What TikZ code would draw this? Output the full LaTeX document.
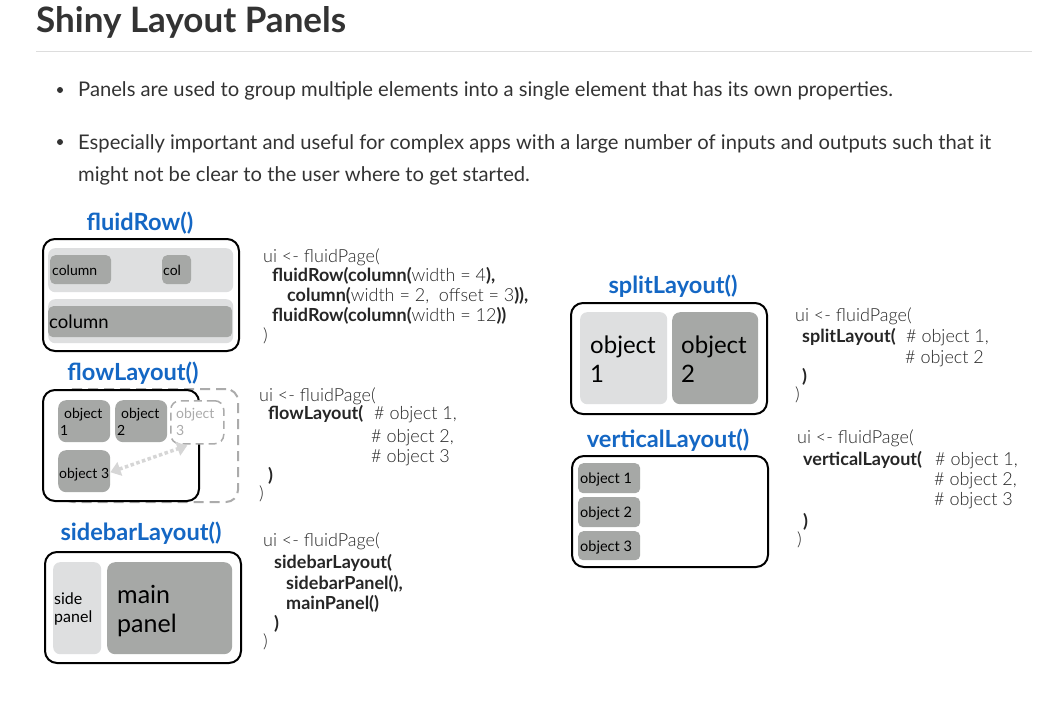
\documentclass[tikz,border=0pt]{standalone}
\usepackage{fontspec}
\setmainfont{Lato}
\IfFontExistsTF{Lato Light}{\newfontfamily\codefont{Lato Light}[BoldFont={Lato Bold}]}{\newfontfamily\codefont{Lato}}
\usetikzlibrary{arrows.meta}
\definecolor{ttl}{HTML}{333333}
\definecolor{blu}{HTML}{1467C4}
\definecolor{lgr}{HTML}{DEDFE0}
\definecolor{dgr}{HTML}{A6A8A6}
\definecolor{cgr}{HTML}{262626}
\definecolor{ghost}{HTML}{ABABAB}
\definecolor{arrc}{HTML}{D6D6D6}
\definecolor{rule}{HTML}{DDDDDD}
\newcommand\fsz[1]{\fontsize{#1}{#1}\selectfont}
\begin{document}
\begin{tikzpicture}[x=1pt,y=-1pt,
 outerbox/.style={draw=black, line width=2pt, rounded corners=12pt, fill=white, inner sep=0, anchor=north west},
 lbox/.style={fill=lgr, rounded corners=7pt, inner sep=0, anchor=north west},
 dbox/.style={fill=dgr, rounded corners=5pt, inner sep=0, anchor=north west},
 txt/.style={anchor=base west, inner sep=0, text=black},
 head/.style={anchor=base, inner sep=0, text=blu, font=\bfseries\fsz{23.6}},
 code/.style={anchor=base west, inner sep=0, text=cgr, font=\codefont\fsz{18}},
]
\path[use as bounding box, fill=white] (0,0) rectangle (1053,713);

% title and bullets
\node[anchor=base west, inner sep=0, text=ttl, font=\bfseries\fsz{35}] (title) at (36,32) {Shiny Layout Panels};
\draw[rule, line width=1pt] (36,51) -- (1032,51);
\fill[ttl] (60,90) circle (3pt);
\fill[ttl] (60,142) circle (3pt);
\node[anchor=base west, inner sep=0, text=ttl, font=\fsz{20.2}] (b1) at (78,96) {Panels are used to group multiple elements into a single element that has its own properties.};
\node[anchor=base west, inner sep=0, text=ttl, font=\fsz{20.2}] (b2) at (78,149) {Especially important and useful for complex apps with a large number of inputs and outputs such that it};
\node[anchor=base west, inner sep=0, text=ttl, font=\fsz{20.2}] (b3) at (78,181) {might not be clear to the user where to get started.};

% ---------- fluidRow
\node[head] (h1) at (140,230) {fluidRow()};
\node[outerbox, minimum width=196pt, minimum height=112pt] (fr) at (42,238) {};
\node[lbox, minimum width=185pt, minimum height=44pt] (fr1) at (48,248) {};
\node[lbox, minimum width=185pt, minimum height=44pt] (fr2) at (48,299) {};
\node[dbox, minimum width=61pt, minimum height=29pt] (fc1) at (50,255) {};
\node[dbox, minimum width=29pt, minimum height=29pt] (fc2) at (162,255) {};
\node[dbox, minimum width=184pt, minimum height=31pt] (fc3) at (48,306) {};
\node[txt, font=\fsz{14}] (fc1t) at (52,275) {column};
\node[txt, font=\fsz{14}] (fc2t) at (163,275) {col};
\node[txt, font=\fsz{18.5}] (fc3t) at (49,328) {column};

\node[code] (c1a) at (263,262) {ui <- fluidPage(};
\node[code] (c1b) at (272,281) {\bfseries fluidRow(column(\mdseries width = 4\bfseries ),};
\node[code] (c1c) at (287,301) {\bfseries column(\mdseries width = 2,\ \ offset = 3\bfseries )),};
\node[code] (c1d) at (272,321) {\bfseries fluidRow(column(\mdseries width = 12\bfseries ))};
\node[code] (c1e) at (263,341) {)};

% ---------- flowLayout
\node[head] (h2) at (133,380) {flowLayout()};
\node[draw=ghost, line width=2pt, dash pattern=on 10pt off 6pt, rounded corners=12pt, inner sep=0, anchor=north west, minimum width=177pt, minimum height=113pt] (fldash) at (60,388) {};
\node[outerbox, minimum width=156pt, minimum height=111pt] (fl) at (42,389) {};
\node[dbox, rounded corners=8pt, minimum width=52pt, minimum height=42pt] (o1) at (58,400) {};
\node[dbox, rounded corners=8pt, minimum width=52pt, minimum height=42pt] (o2) at (115,400) {};
\node[dbox, rounded corners=8pt, minimum width=52pt, minimum height=42pt] (o3) at (58,450) {};
\node[draw=ghost, fill=white, line width=1.5pt, dash pattern=on 8pt off 5pt, rounded corners=9pt, inner sep=0, anchor=north west, minimum width=53pt, minimum height=43pt] (og) at (170,400) {};
\node[txt, font=\fsz{14}] (o1t) at (64,418) {object};
\node[txt, font=\fsz{14}] (o1n) at (60,435) {1};
\node[txt, font=\fsz{14}] (o2t) at (121,418) {object};
\node[txt, font=\fsz{14}] (o2n) at (117,435) {2};
\node[txt, font=\fsz{14}] (o3t) at (59,478) {object 3};
\node[txt, font=\fsz{14}, text=ghost] (ogt) at (176,418) {object};
\node[txt, font=\fsz{14}, text=ghost] (ogn) at (176,435) {3};
\draw[arrc, line width=3.5pt, dash pattern=on 3.5pt off 2.5pt, {Triangle[length=10pt,width=14pt]}-{Triangle[length=10pt,width=14pt]}] ([yshift=-1pt]o3.east) -- ([xshift=-10pt,yshift=-1pt]og.south);

\node[code] (c2a) at (259,401) {ui <- fluidPage(};
\node[code] (c2b) at (268,419) {\bfseries flowLayout(};
\node[code] (c2b2) at (374,419) {\# object 1,};
\node[code] (c2c) at (371,442) {\# object 2,};
\node[code] (c2d) at (371,462) {\# object 3};
\node[code] (c2e) at (268,481) {\bfseries )};
\node[code] (c2f) at (259,499) {)};

% ---------- sidebarLayout
\node[head] (h3) at (141,540) {sidebarLayout()};
\node[outerbox, minimum width=196pt, minimum height=111pt] (sb) at (44,551) {};
\node[lbox, minimum width=48pt, minimum height=92pt] (sp) at (53,562) {};
\node[dbox, rounded corners=8pt, minimum width=125pt, minimum height=92pt] (mp) at (107,562) {};
\node[txt, font=\fsz{16}] (spt) at (54,604) {side};
\node[txt, font=\fsz{16}] (spt2) at (54,622) {panel};
\node[txt, font=\fsz{25}] (mpt) at (117,603) {main};
\node[txt, font=\fsz{25}] (mpt2) at (117,632) {panel};

\node[code] (c3a) at (263,546) {ui <- fluidPage(};
\node[code] (c3b) at (274,568) {\bfseries sidebarLayout(};
\node[code] (c3c) at (286,589) {\bfseries sidebarPanel(),};
\node[code] (c3d) at (286,609) {\bfseries mainPanel()};
\node[code] (c3e) at (274,629) {\bfseries )};
\node[code] (c3f) at (263,647) {)};

% ---------- splitLayout
\node[head] (h4) at (673,293) {splitLayout()};
\node[outerbox, minimum width=196pt, minimum height=111pt] (sl) at (570,302) {};
\node[lbox, minimum width=87pt, minimum height=92pt] (s1) at (580,312) {};
\node[dbox, rounded corners=8pt, minimum width=86pt, minimum height=92pt] (s2) at (672,312) {};
\node[txt, font=\fsz{24}] (s1t) at (590,353) {object};
\node[txt, font=\fsz{24}] (s1n) at (590,382) {1};
\node[txt, font=\fsz{24}] (s2t) at (681,353) {object};
\node[txt, font=\fsz{24}] (s2n) at (681,382) {2};

\node[code] (c4a) at (795,321) {ui <- fluidPage(};
\node[code] (c4b) at (802,342) {\bfseries splitLayout(};
\node[code] (c4b2) at (906,342) {\# object 1,};
\node[code] (c4c) at (905,363) {\# object 2};
\node[code] (c4d) at (802,382) {\bfseries )};
\node[code] (c4e) at (795,400) {)};

% ---------- verticalLayout
\node[head] (h5) at (668,447) {verticalLayout()};
\node[outerbox, minimum width=196pt, minimum height=111pt] (vl) at (571,455) {};
\node[dbox, minimum width=62pt, minimum height=30pt] (v1) at (578,463) {};
\node[dbox, minimum width=62pt, minimum height=30pt] (v2) at (578,497) {};
\node[dbox, minimum width=62pt, minimum height=29pt] (v3) at (578,531) {};
\node[txt, font=\fsz{14.5}] (v1t) at (580,483) {object 1};
\node[txt, font=\fsz{14.5}] (v2t) at (580,517) {object 2};
\node[txt, font=\fsz{14.5}] (v3t) at (580,551) {object 3};

\node[code] (c5a) at (797,443) {ui <- fluidPage(};
\node[code] (c5b) at (803,465) {\bfseries verticalLayout(};
\node[code] (c5b2) at (935,465) {\# object 1,};
\node[code] (c5c) at (934,485) {\# object 2,};
\node[code] (c5d) at (934,505) {\# object 3};
\node[code] (c5e) at (803,527) {\bfseries )};
\node[code] (c5f) at (797,545) {)};
\end{tikzpicture}
\end{document}
